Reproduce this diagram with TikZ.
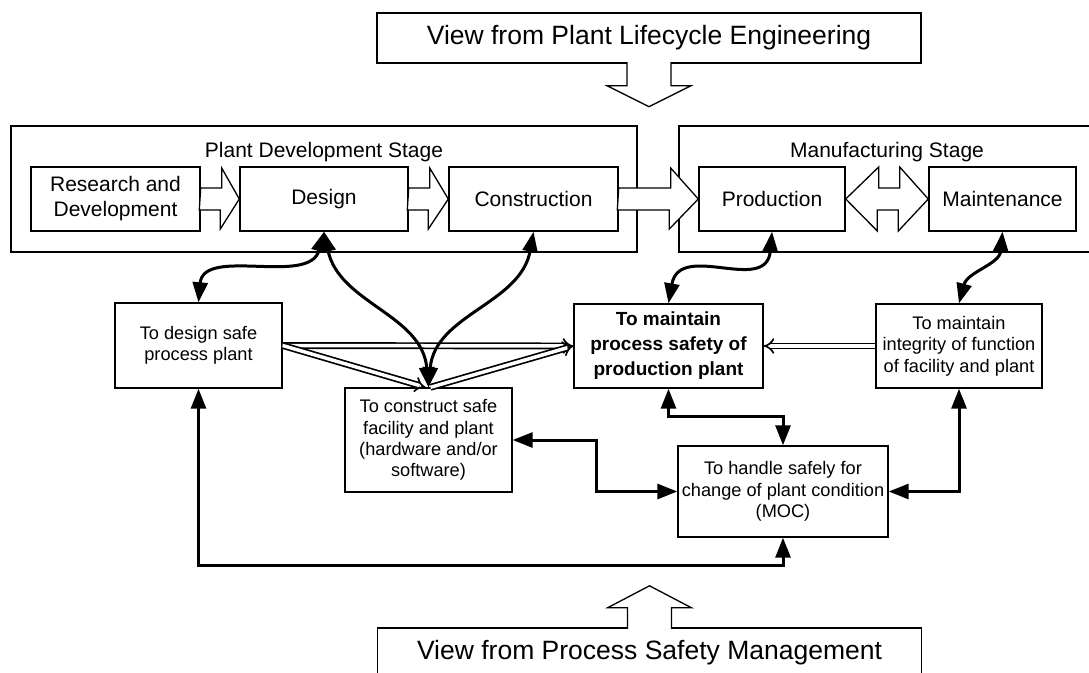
\documentclass[tikz,border=0pt]{standalone}
\usepackage{fontspec}
\setmainfont{Liberation Sans}
\usetikzlibrary{arrows.meta}

\begin{document}
\begin{tikzpicture}[x=1pt, y=-1pt, line join=miter,
		plainbox/.style = {draw, line width=1.4pt, inner sep=0pt},
		view/.style = {plainbox, minimum width=544pt, minimum height=50pt, font=\fontsize{26.5}{30}\selectfont},
		stage/.style = {plainbox, minimum height=64pt, align=center, font=\fontsize{21}{25}\selectfont},
		stagename/.style = {font=\fontsize{21}{25}\selectfont},
		goal/.style = {plainbox, align=center, font=\fontsize{18.2}{21.3}\selectfont},
		block/.style = {draw, fill=white, line width=1.3pt},
		link/.style = {line width=3pt, {Triangle[length=20pt,width=15pt]}-{Triangle[length=20pt,width=15pt]}},
		flow/.style = {double, double distance=3.5pt, line width=1.7pt, -{Implies}}]
		\useasboundingbox (0,0) rectangle (1089,672);
		\clip (0,0) rectangle (1089,672);
		\node[view] (top) at (649,38) {View from Plant Lifecycle Engineering};
		\node[plainbox, minimum width=626pt, minimum height=126pt] (dev) at (324,189) {};
		\node[plainbox, minimum width=421pt, minimum height=126pt] (mfg) at (889.5,189) {};
		\node[stagename] (devname) at (324,152) {Plant Development Stage};
		\node[stagename] (mfgname) at (887,152) {Manufacturing Stage};
		\node[stage, minimum width=169pt] (rd) at (115.5,199) {Research and\\Development};
		\node[stage, minimum width=168pt] (des) at (324,199) {Design};
		\node[stage, minimum width=169pt] (con) at (533.5,199) {Construction};
		\node[stage, minimum width=146pt] (prod) at (772,199) {Production};
		\node[stage, minimum width=147pt] (mnt) at (1002.5,199) {Maintenance};
		\node[goal, minimum width=167pt, minimum height=85pt] (dsafe) at (198.5,345.5) {To design safe\\process plant};
		\node[goal, minimum width=167pt, minimum height=104pt] (csafe) at (428.5,440) {To construct safe\\facility and plant\\(hardware and/or\\software)};
		\node[goal, minimum width=189pt, minimum height=84pt, font=\bfseries\fontsize{19}{25}\selectfont] (psafe) at (668.5,346) {To maintain\\process safety of\\production plant};
		\node[goal, minimum width=166pt, minimum height=84pt] (integ) at (959,346) {To maintain\\integrity of function\\of facility and plant};
		\node[goal, minimum width=210pt, minimum height=91pt] (moc) at (783,491.5) {To handle safely for\\change of plant condition\\(MOC)};
		\node[view] (bottom) at (649.5,653) {View from Process Safety Management};
		\draw[block] ([xshift=-22pt]top.south) ++(0,-1.5) -- ++(0,23.5) -- ++(-20,0) -- ++(42,21) -- ++(42,-21) -- ++(-20,0) -- ++(0,-23.5);
		\draw[block] ([xshift=-22pt]bottom.north) ++(0,1.5) -- ++(0,-21) -- ++(-20,0) -- ++(42,-22) -- ++(42,22) -- ++(-20,0) -- ++(0,21);
		\draw[block] (rd.east) ++(0,-11) -- ++(21,0) -- ++(0,-20) -- (des.west) -- ++(-19,30) -- ++(0,-19) -- ++(-21,0) -- cycle;
		\draw[block] (des.east) ++(0,-11) -- ++(21,0) -- ++(0,-20) -- (con.west) -- ++(-20,30) -- ++(0,-19) -- ++(-21,0) -- cycle;
		\draw[block] (con.east) ++(0,-11) -- ++(52,0) -- ++(0,-20) -- (prod.west) -- ++(-29,30) -- ++(0,-19) -- ++(-52,0) -- cycle;
		\draw[block] (prod.east) -- ++(33,-32) -- ++(0,21) -- ++(21,0) -- ++(0,-21) -- (mnt.west) -- ++(-30,32) -- ++(0,-21) -- ++(-21,0) -- ++(0,21) -- cycle;
		\draw[flow] (dsafe.east) -- (psafe.west);
		\draw[flow] (dsafe.east) -- ([xshift=-3pt]csafe.north);
		\draw[flow] ([xshift=2pt]csafe.north) -- (psafe.west);
		\draw[flow] (integ.west) -- (psafe.east);
		\draw[link] (des.south) to[out=-105, in=85] (dsafe.north);
		\draw[link] (des.south) to[out=-78, in=95] (csafe.north);
		\draw[link] (con.south) to[out=-100, in=85] (csafe.north);
		\draw[link] (prod.south) to[out=-95, in=80, looseness=1.3] (psafe.north);
		\draw[link] (mnt.south) to[out=-95, in=75] (integ.north);
		\draw[link] (psafe.south) -- ++(0,28) -| (moc.north);
		\draw[link] (csafe.east) -- ++(84,0) |- (moc.west);
		\draw[link] (moc.east) -| (integ.south);
		\draw[link] (dsafe.south) -- ++(0,177) -| (moc.south);
	\end{tikzpicture}
\end{document}
